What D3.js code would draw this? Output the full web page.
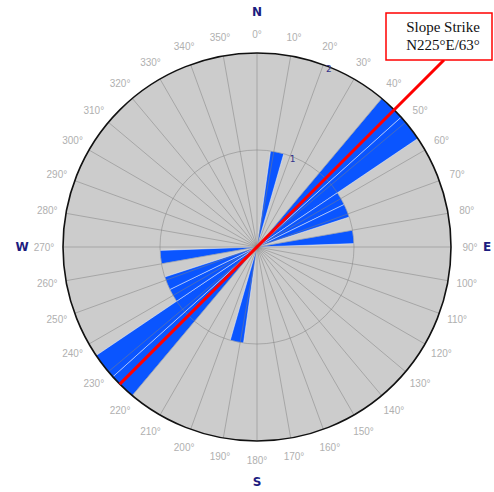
<!DOCTYPE html>
<html>
<head>
<meta charset="utf-8">
<script src="https://cdn.jsdelivr.net/npm/d3@7"></script>
<style>
  html, body { margin: 0; padding: 0; background: #ffffff; }
  svg { display: block; }
</style>
</head>
<body>
<svg id="rose" width="494" height="492"></svg>
<script>
// Rose diagram of discontinuity strikes, counted in 8-degree bins (bidirectional)
const binStarts = [8, 40, 48, 56, 64, 80, 188, 220, 228, 236, 244, 260];
const binCounts = [1, 2, 2, 1, 1, 1, 1, 2, 2, 1, 1, 1];
const binWidth = 8;

// Axis definitions
const angleTicks = d3.range(0, 360, 10);
const radialTicks = [1, 2];
const radialMax = 2;
const cardinals = [
  { label: "N", angle: 0 },
  { label: "E", angle: 90 },
  { label: "S", angle: 180 },
  { label: "W", angle: 270 }
];

// Slope strike marker
const slopeStrike = 225;
const slopeLabel = ["Slope Strike", "N225\u00B0E/63\u00B0"];

const cx = 257, cy = 247, R = 194;
const svg = d3.select("#rose");
const g = svg.append("g").attr("transform", `translate(${cx},${cy})`);

const r = d3.scaleLinear().domain([0, radialMax]).range([0, R]);
const rad = d => d * Math.PI / 180;
const px = (deg, rr) => rr * Math.sin(rad(deg));
const py = (deg, rr) => -rr * Math.cos(rad(deg));

// plot background
g.append("circle").attr("r", R).attr("fill", "#cccccc");

// petals
const arc = d3.arc().innerRadius(0);
const bins = binStarts.map((s, i) => ({ start: s, count: binCounts[i] }));
g.append("g").selectAll("path").data(bins).join("path")
  .attr("d", d => arc({
    outerRadius: r(d.count),
    startAngle: rad(d.start),
    endAngle: rad(d.start + binWidth)
  }))
  .attr("fill", "#0a55ff")
  .attr("stroke", "#ffffff")
  .attr("stroke-opacity", 0.45)
  .attr("stroke-width", 1);

// grid drawn over the petals
const grid = g.append("g").attr("stroke", "#808080").attr("stroke-opacity", 0.5).attr("fill", "none");
grid.selectAll("line").data(angleTicks).join("line")
  .attr("x1", 0).attr("y1", 0)
  .attr("x2", d => px(d, R)).attr("y2", d => py(d, R))
  .attr("stroke-width", 1);
grid.selectAll("circle").data(radialTicks.filter(t => t < radialMax)).join("circle")
  .attr("r", d => r(d)).attr("stroke-width", 1);

// outer rim
g.append("circle").attr("r", R).attr("fill", "none").attr("stroke", "#111111").attr("stroke-width", 1.6);

// radial tick labels
g.append("g").selectAll("text").data(radialTicks).join("text")
  .attr("x", d => px(22, r(d) - 2))
  .attr("y", d => py(22, r(d) - 2))
  .attr("text-anchor", "middle")
  .attr("dominant-baseline", "central")
  .attr("font-family", "'DejaVu Sans', sans-serif")
  .attr("font-size", 9)
  .attr("fill", "#33338a")
  .text(d => d);

// angle labels
g.append("g").selectAll("text").data(angleTicks).join("text")
  .attr("x", d => px(d, 213))
  .attr("y", d => py(d, 213))
  .attr("text-anchor", "middle")
  .attr("dominant-baseline", "central")
  .attr("font-family", "'Liberation Sans', Arial, sans-serif")
  .attr("font-size", 10)
  .attr("fill", "#b0b0b0")
  .text(d => d + "\u00B0");

// compass letters
g.append("g").selectAll("text").data(cardinals).join("text")
  .attr("x", d => px(d.angle, d.angle === 90 ? 230 : 235))
  .attr("y", d => py(d.angle, 235))
  .attr("text-anchor", "middle")
  .attr("dominant-baseline", "central")
  .attr("font-family", "'DejaVu Sans', sans-serif")
  .attr("font-weight", "bold")
  .attr("font-size", 12)
  .attr("fill", "#1c1c80")
  .text(d => d.label);

// slope strike line and callout
const box = { x: 386, y: 13, w: 106, h: 47 };
const endR = (cy - (box.y + box.h)) / Math.cos(rad(slopeStrike - 180));
g.append("line")
  .attr("x1", px(slopeStrike, R)).attr("y1", py(slopeStrike, R))
  .attr("x2", px(slopeStrike - 180, endR)).attr("y2", py(slopeStrike - 180, endR))
  .attr("stroke", "#ff0000")
  .attr("stroke-width", 3);

svg.append("rect")
  .attr("x", box.x).attr("y", box.y).attr("width", box.w).attr("height", box.h)
  .attr("fill", "#ffffff").attr("stroke", "#ff0000").attr("stroke-width", 1.5);
svg.append("g").selectAll("text").data(slopeLabel).join("text")
  .attr("x", 443)
  .attr("y", (d, i) => 32 + i * 18)
  .attr("text-anchor", "middle")
  .attr("font-family", "'Liberation Serif', 'Times New Roman', serif")
  .attr("font-size", 15)
  .attr("fill", "#111111")
  .text(d => d);
</script>
</body>
</html>
